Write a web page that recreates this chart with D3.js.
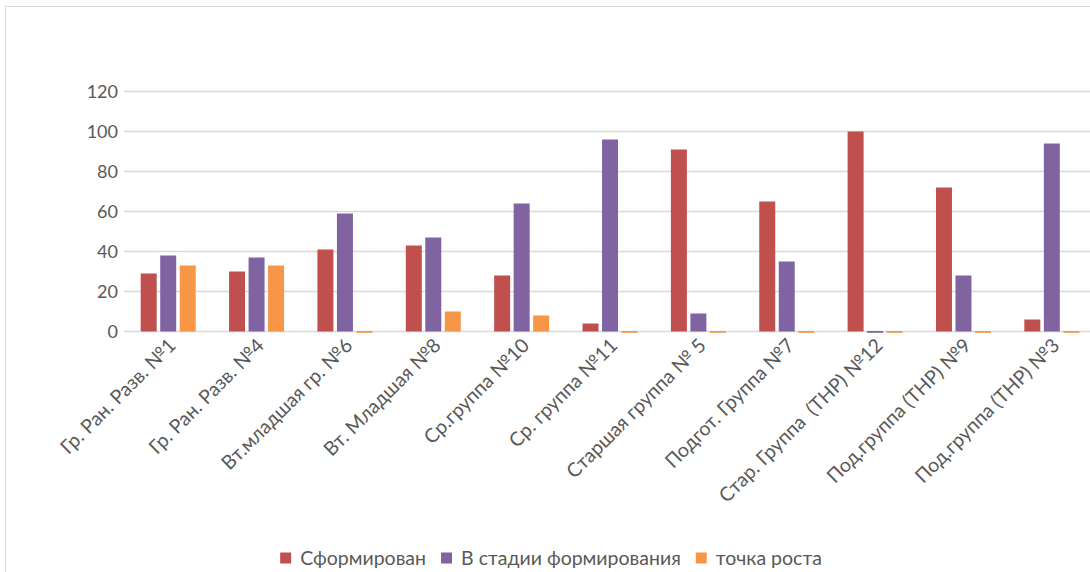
<!DOCTYPE html>
<html><head><meta charset="utf-8">
<script src="https://cdn.jsdelivr.net/npm/d3@7"></script>
<style>
html,body{margin:0;padding:0;background:#fff;}
svg{display:block;font-family:Lato,"Open Sans",sans-serif;}
text{white-space:pre;}
</style></head>
<body>
<svg id="c" width="1090" height="572"></svg>
<script>
const categories = ["Гр. Ран. Разв. №1","Гр. Ран. Разв. №4","Вт.младшая гр. №6","Вт. Младшая №8","Ср.группа №10","Ср. группа №11","Старшая группа № 5","Подгот. Группа №7","Стар. Группа  (ТНР) №12","Под.группа (ТНР) №9","Под.группа (ТНР) №3"];
const seriesNames = ["Сформирован","В стадии формирования","точка роста"];
const formed   = [29,30,41,43,28,4,91,65,100,72,6];
const forming  = [38,37,59,47,64,96,9,35,0,28,94];
const growth   = [33,33,0,10,8,0,0,0,0,0,0];
const yTicks = [0,20,40,60,80,100,120];
const colors = ["#c0504d","#8064a2","#f79646"];

const svg = d3.select("#c");
const series = [formed, forming, growth];

svg.append("rect").attr("x",5.5).attr("y",6.5).attr("width",1110).attr("height",566)
  .attr("fill","#fff").attr("stroke","#d9d9d9").attr("stroke-width",1);

const x0 = d3.scaleBand().domain(categories).range([124,1096]).padding(0);
const x1 = d3.scaleBand().domain(d3.range(3)).range([16.7, 71.7]).paddingInner(0.18).paddingOuter(0);
const y = d3.scaleLinear().domain([0,120]).range([331.5,91.5]);

// grid
svg.append("g").selectAll("line").data(yTicks).join("line")
  .attr("x1",124).attr("x2",1096)
  .attr("y1",d=>y(d)).attr("y2",d=>y(d))
  .attr("stroke","#d9d9d9").attr("stroke-width",1.5);

// y axis labels
const yAxis = d3.axisLeft(y).tickValues(yTicks).tickSize(0).tickPadding(0);
const ya = svg.append("g").attr("transform","translate(118,0)").call(yAxis);
ya.select(".domain").remove();
ya.selectAll("text").attr("fill","#595959").style("font-size","18px").style("font-family","Lato");

// bars
const g = svg.append("g");
categories.forEach((c,i)=>{
  series.forEach((s,k)=>{
    const v = s[i];
    const bx = x0(c)+x1(k);
    if (v === 0) {
      g.append("rect").attr("x",bx).attr("y",y(0)-0.5).attr("width",x1.bandwidth()).attr("height",1.8).attr("fill",colors[k]);
    } else {
      g.append("rect").attr("x",bx).attr("y",y(v)).attr("width",x1.bandwidth()).attr("height",y(0)-y(v)).attr("fill",colors[k]);
    }
  });
});

// x axis labels
const xa = svg.append("g");
categories.forEach(c=>{
  const cx = x0(c)+x0.bandwidth()/2;
  xa.append("text")
    .attr("transform",`translate(${cx+4},${342}) rotate(-45)`)
    .attr("text-anchor","end").attr("dy","0.35em")
    .attr("fill","#595959").style("font-size","19.5px")
    .text(c);
});

// legend
const leg = svg.append("g");
let cur = 0;
seriesNames.forEach((n,k)=>{
  const it = leg.append("g");
  it.append("rect").attr("x",0).attr("y",-5.5).attr("width",11).attr("height",11).attr("fill",colors[k]);
  const t = it.append("text").attr("x",20).attr("dy","0.35em").attr("fill","#595959").style("font-size","19.5px").text(n);
  const w = t.node().getComputedTextLength();
  it.attr("transform",`translate(${cur},558)`);
  cur += 20 + w + 15;
});
const total = cur - 15;
leg.attr("transform",`translate(${551 - total/2},0)`);
</script>
</body></html>
